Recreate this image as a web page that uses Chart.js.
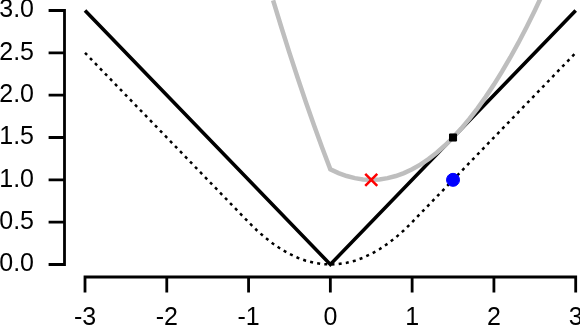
<!DOCTYPE html>
<html>
<head>
<meta charset="utf-8">
<script src="https://cdn.jsdelivr.net/npm/chart.js@4/dist/chart.umd.min.js"></script>
<style>
  html, body { margin: 0; padding: 0; background: #ffffff; }
  #c { display: block; }
</style>
</head>
<body>
<canvas id="c" width="580" height="330"></canvas>
<script>
// Axis ticks
const xTicks = [-3, -2, -1, 0, 1, 2, 3];
const xTickLabels = ['-3', '-2', '-1', '0', '1', '2', '3'];
const yTicks = [0, 0.5, 1, 1.5, 2, 2.5, 3];
const yTickLabels = ['0.0', '0.5', '1.0', '1.5', '2.0', '2.5', '3.0'];

// Solid black V line
const absX = [-3, 0, 3];
const absY = [3, 0, 3];

// Dotted black line
const dotX = [-3, -1, -0.9, -0.8, -0.7, -0.6, -0.5, -0.4, -0.3, -0.2, -0.1, 0,
              0.1, 0.2, 0.3, 0.4, 0.5, 0.6, 0.7, 0.8, 0.9, 1, 3];
const dotY = [2.5, 0.5, 0.405, 0.32, 0.245, 0.18, 0.125, 0.08, 0.045, 0.02, 0.005, 0,
              0.005, 0.02, 0.045, 0.08, 0.125, 0.18, 0.245, 0.32, 0.405, 0.5, 2.5];

// Grey curve
const grayX = [-0.7, -0.6, -0.5, -0.4, -0.3, -0.2, -0.1, 0, 0.1, 0.2, 0.3, 0.4, 0.5,
               0.6, 0.7, 0.8, 0.9, 1.0, 1.1, 1.2, 1.3, 1.4, 1.5, 1.6, 1.7, 1.8, 1.9,
               2.0, 2.1, 2.2, 2.3, 2.4, 2.5, 2.6];
const grayY = [3.12, 2.805, 2.5, 2.205, 1.92, 1.645, 1.38, 1.125, 1.08, 1.045, 1.02, 1.005, 1.0,
               1.005, 1.02, 1.045, 1.08, 1.125, 1.18, 1.245, 1.32, 1.405, 1.5, 1.605, 1.72, 1.845, 1.98,
               2.125, 2.28, 2.445, 2.62, 2.805, 3.0, 3.205];

// Markers
const redX = [0.5], redY = [1.0];
const squareX = [1.5], squareY = [1.5];
const blueX = [1.5], blueY = [1.0];

const pts = (xs, ys) => xs.map((x, i) => ({ x: x, y: ys[i] }));
const FONT = { family: "'Liberation Sans', Arial, sans-serif", size: 25 };

const axesPlugin = {
  id: 'rAxes',
  afterDraw(chart) {
    const ctx = chart.ctx;
    const xs = chart.scales.x, ys = chart.scales.y;
    const ca = chart.chartArea;
    ctx.save();
    ctx.strokeStyle = '#000';
    ctx.lineWidth = 2.8;
    ctx.lineCap = 'square';
    // y axis
    const ax = ca.left - 0.5;
    ctx.beginPath();
    ctx.moveTo(ax, ys.getPixelForValue(yTicks[0]));
    ctx.lineTo(ax, ys.getPixelForValue(yTicks[yTicks.length - 1]));
    yTicks.forEach(v => {
      const p = ys.getPixelForValue(v);
      ctx.moveTo(ax, p);
      ctx.lineTo(ax - 14.5, p);
    });
    ctx.stroke();
    // x axis
    const ay = ca.bottom;
    ctx.beginPath();
    ctx.moveTo(xs.getPixelForValue(xTicks[0]), ay);
    ctx.lineTo(xs.getPixelForValue(xTicks[xTicks.length - 1]), ay);
    xTicks.forEach(v => {
      const p = xs.getPixelForValue(v);
      ctx.moveTo(p, ay);
      ctx.lineTo(p, ay + 14);
    });
    ctx.stroke();
    ctx.restore();
  }
};

new Chart(document.getElementById('c'), {
  type: 'scatter',
  data: {
    datasets: [
      { data: pts(squareX, squareY), pointStyle: 'rect', pointRadius: 5, backgroundColor: '#000', borderColor: '#000', borderWidth: 1, showLine: false, order: 0 },
      { data: pts(redX, redY), pointStyle: 'crossRot', pointRadius: 8.5, backgroundColor: '#ff0000', borderColor: '#ff0000', borderWidth: 2.5, showLine: false, order: 0 },
      { data: pts(blueX, blueY), pointStyle: 'circle', pointRadius: 6.5, backgroundColor: '#0000ff', borderColor: '#0000ff', borderWidth: 1, showLine: false, order: 0 },
      { data: pts(grayX, grayY), showLine: true, borderColor: '#bebebe', borderWidth: 4.5, pointRadius: 0, tension: 0, fill: false, order: 1 },
      { data: pts(absX, absY), showLine: true, borderColor: '#000', borderWidth: 3.6, pointRadius: 0, tension: 0, fill: false, order: 2 },
      { data: pts(dotX, dotY), showLine: true, borderColor: '#000', borderWidth: 2.5, borderDash: [3, 4.2], borderCapStyle: 'butt', pointRadius: 0, tension: 0, fill: false, order: 3 }
    ]
  },
  options: {
    responsive: false,
    animation: false,
    devicePixelRatio: 1,
    layout: { padding: 0, autoPadding: false },
    plugins: { legend: { display: false }, tooltip: { enabled: false } },
    scales: {
      x: {
        type: 'linear',
        min: -3.2446,
        max: 3.0526,
        grid: { display: false, drawTicks: false },
        border: { display: false },
        ticks: {
          font: FONT, color: '#000', padding: 26, autoSkip: false, maxRotation: 0,
          callback: (v, i) => xTickLabels[i]
        },
        afterBuildTicks: s => { s.ticks = xTicks.map(v => ({ value: v })); },
        afterFit: s => { s.height = 53; s.paddingLeft = 0; s.paddingRight = 0; }
      },
      y: {
        type: 'linear',
        min: -0.1476,
        max: 3.124,
        grid: { display: false, drawTicks: false },
        border: { display: false },
        ticks: {
          font: FONT, color: '#000', padding: 31, autoSkip: false,
          callback: (v, i) => yTickLabels[i]
        },
        afterBuildTicks: s => { s.ticks = yTicks.map(v => ({ value: v })); },
        afterFit: s => { s.width = 65; s.paddingTop = 0; s.paddingBottom = 0; }
      }
    }
  },
  plugins: [axesPlugin]
});
</script>
</body>
</html>
